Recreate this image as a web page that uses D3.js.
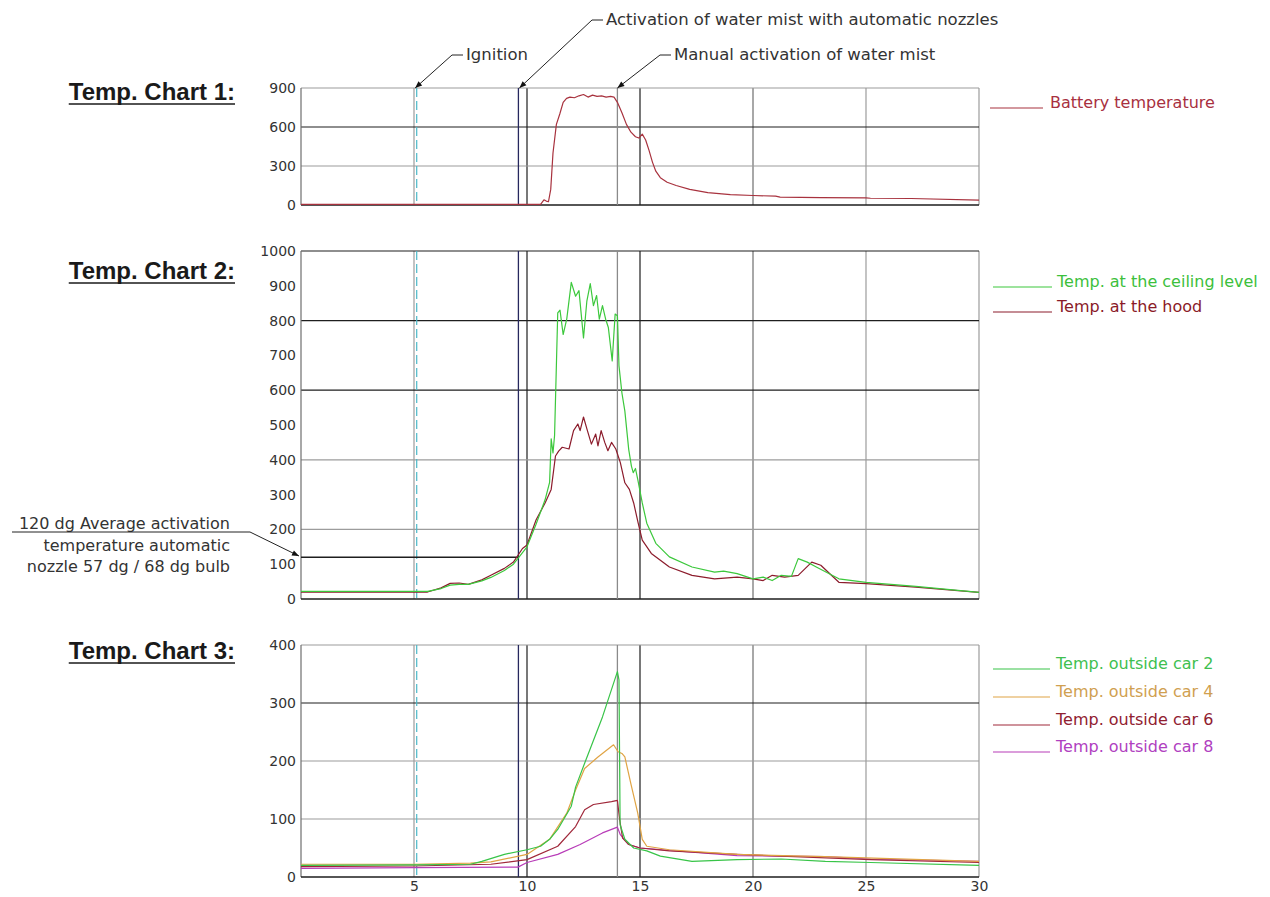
<!DOCTYPE html>
<html><head><meta charset="utf-8">
<script src="https://cdn.jsdelivr.net/npm/d3@7"></script>
<style>
html,body{margin:0;padding:0;background:#fff;}
svg{display:block;}
</style></head>
<body>
<svg id="chart" width="1270" height="897"></svg>
<script>
// ---------------- data ----------------
const xTicks = [5, 10, 15, 20, 25, 30];
const chart1YTicks = [0, 300, 600, 900];
const chart2YTicks = [0, 100, 200, 300, 400, 500, 600, 700, 800, 900, 1000];
const chart3YTicks = [0, 100, 200, 300, 400];

const ignitionTime = 5.12;
const autoActivationTime = 9.62;
const manualActivationTime = 14;
const activationTempLevel = 120;

const battery = [[0,5],[5,5],[10,5],[10.6,5],[10.75,40],[10.85,30],[10.95,25],[11.05,120],[11.15,400],[11.3,620],[11.45,700],[11.6,790],[11.75,820],[11.9,830],[12.1,825],[12.3,840],[12.5,850],[12.7,830],[12.9,845],[13.1,835],[13.3,840],[13.5,830],[13.7,835],[13.85,830],[14.0,790],[14.2,710],[14.4,620],[14.6,560],[14.8,525],[14.95,515],[15.1,545],[15.25,500],[15.4,420],[15.55,330],[15.7,260],[15.9,210],[16.2,175],[16.6,150],[17.2,120],[18,95],[19,80],[20,73],[21,68],[21.2,60],[23,57],[25,55],[25.2,52],[27,50],[30,38]];

const ceiling = [[0,22],[5.6,22],[6.2,30],[6.6,40],[7.0,42],[7.4,42],[8.0,52],[8.4,62],[9.0,82],[9.4,100],[9.62,118],[10,150],[10.4,215],[10.8,285],[11.0,335],[11.07,460],[11.15,420],[11.22,470],[11.36,822],[11.46,830],[11.6,760],[11.76,805],[11.96,910],[12.15,870],[12.3,886],[12.5,750],[12.65,857],[12.8,906],[12.94,843],[13.08,872],[13.2,804],[13.34,843],[13.48,804],[13.6,780],[13.77,684],[13.9,819],[14.0,814],[14.07,670],[14.2,592],[14.33,540],[14.5,430],[14.62,382],[14.7,363],[14.8,375],[14.9,344],[15.1,276],[15.3,218],[15.7,160],[16.3,121],[17.3,92],[18.3,77],[18.7,80],[19.3,73],[20,58],[20.45,63],[20.85,53],[21.25,68],[21.7,65],[22.0,116],[22.4,106],[22.8,92],[23.8,58],[25,48],[27.2,36],[30,19]];

const hood = [[0,20],[5.6,20],[6.2,32],[6.6,45],[7.0,46],[7.4,42],[8.0,55],[8.4,68],[9.0,88],[9.4,106],[9.8,145],[10,155],[10.4,227],[10.8,276],[11.07,315],[11.26,411],[11.4,425],[11.56,436],[11.86,431],[12.06,484],[12.25,503],[12.35,484],[12.5,523],[12.65,489],[12.85,445],[13.04,474],[13.14,440],[13.28,484],[13.44,450],[13.58,426],[13.74,450],[13.93,431],[14.13,392],[14.33,334],[14.53,315],[14.72,276],[14.92,218],[15.1,169],[15.5,131],[16.3,92],[17.3,68],[18.3,58],[19.3,63],[20,58],[20.45,53],[20.85,68],[21.4,63],[22.0,68],[22.6,106],[23,97],[23.8,48],[25,44],[27.2,34],[30,19]];

const car2 = [[0,20],[5,21],[7.5,22],[8.0,27],[9.0,39],[10,47],[10.6,53],[11.0,65],[11.36,82],[11.96,122],[12.15,155],[12.55,196],[13.34,276],[14.0,354],[14.07,340],[14.12,90],[14.33,65],[14.72,50],[15.3,45],[15.9,36],[17.3,27],[19.3,30],[21.25,31],[23.2,27],[25.2,25],[30,20]];
const car4 = [[0,22],[5,22],[7.5,24],[8.4,26],[10,39],[11,65],[11.76,110],[12.15,150],[12.55,187],[13.14,207],[13.83,228],[14.03,216],[14.2,213],[14.33,207],[14.6,160],[14.9,110],[15.1,65],[15.3,53],[16.3,47],[19.3,39],[23.2,35],[30,27]];
const car6 = [[0,18],[5,19],[8.4,22],[10,30],[11.36,53],[12.15,87],[12.55,116],[12.94,125],[13.74,130],[14,132],[14.1,99],[14.23,67],[14.5,56],[15,50],[16.3,45],[19.3,39],[21.25,36],[25.2,30],[30,25]];
const car8 = [[0,15],[5,16],[9.6,17],[10,25],[11.36,39],[12.35,56],[13.34,76],[14,86],[14.13,73],[14.5,56],[15,50],[17.3,43],[19.3,37],[23.2,35],[25.2,31],[30,27]];

const chartTitles = ["Temp. Chart 1:", "Temp. Chart 2:", "Temp. Chart 3:"];
const legend1 = ["Battery temperature"];
const legend2 = ["Temp. at the ceiling level", "Temp. at the hood"];
const legend3 = ["Temp. outside car 2", "Temp. outside car 4", "Temp. outside car 6", "Temp. outside car 8"];
const topNotes = ["Activation of water mist with automatic nozzles", "Ignition", "Manual activation of water mist"];
const leftNote = ["120 dg Average activation", "temperature automatic", "nozzle 57 dg / 68 dg bulb"];

// ---------------- drawing ----------------
const FONT = "'DejaVu Sans', sans-serif";
const svg = d3.select("#chart");
const GRAY = "#9c9c9c", DARK = "#1e1e1e", MID = "#6e6e6e";

const x = d3.scaleLinear().domain([0, 30]).range([301, 979]);

svg.append("defs").append("marker")
  .attr("id","arrow").attr("viewBox","0 0 10 10").attr("refX",10).attr("refY",5)
  .attr("markerWidth",9).attr("markerHeight",7).attr("markerUnits","userSpaceOnUse")
  .attr("orient","auto")
  .append("path").attr("d","M0,1 L10,5 L0,9 Z").attr("fill","#111");

const panels = [
  { title: chartTitles[0], titleY: 100, domain:[0,900], range:[205,88], ticks: chart1YTicks,
    hgrid:[[300,GRAY],[600,DARK],[900,GRAY]],
    series:[{d:battery,c:"#a8323e"}],
    names: legend1, lineCols:["#a8323e"], textCols:["#a83040"],
    legendY:[108], legendX:[990,1043,1050] },
  { title: chartTitles[1], titleY: 279, domain:[0,1000], range:[599,251], ticks: chart2YTicks,
    hgrid:[[200,GRAY],[400,GRAY],[600,DARK],[800,DARK],[1000,DARK]],
    series:[{d:hood,c:"#8c1c2c"},{d:ceiling,c:"#3cc83c"}],
    names: legend2, lineCols:["#3cc83c","#8c1c2c"], textCols:["#3cc03c","#8a1a28"],
    legendY:[287,312], legendX:[993,1052,1057] },
  { title: chartTitles[2], titleY: 659, domain:[0,400], range:[877,645], ticks: chart3YTicks,
    hgrid:[[100,GRAY],[200,GRAY],[300,DARK],[400,GRAY]],
    series:[{d:car8,c:"#b83cb8"},{d:car6,c:"#a0283a"},{d:car4,c:"#e0a444"},{d:car2,c:"#38c448"}],
    names: legend3, lineCols:["#38c448","#e0a444","#a0283a","#b83cb8"], textCols:["#40c050","#d0a050","#902030","#b040c0"],
    legendY:[669,697,725,752], legendX:[993,1050,1056] }
];

panels.forEach((p, pi) => {
  const y = d3.scaleLinear().domain(p.domain).range(p.range);
  const g = svg.append("g");
  const top = p.range[1], bot = p.range[0];

  const vgrid = [[5,GRAY],[10,DARK],[15,DARK],[20,MID],[25,GRAY],[30,GRAY]];
  vgrid.forEach(([v,c]) => g.append("line").attr("x1",x(v)).attr("x2",x(v))
    .attr("y1",top).attr("y2",bot).attr("stroke",c).attr("stroke-width",1.2));
  p.hgrid.forEach(([v,c]) => g.append("line").attr("x1",x(0)).attr("x2",x(30))
    .attr("y1",y(v)).attr("y2",y(v)).attr("stroke",c).attr("stroke-width",1.2));
  g.append("line").attr("x1",x(0)).attr("x2",x(0)).attr("y1",top).attr("y2",bot).attr("stroke",MID).attr("stroke-width",1.2);
  g.append("line").attr("x1",x(0)).attr("x2",x(30)).attr("y1",bot).attr("y2",bot).attr("stroke",DARK).attr("stroke-width",1.4);

  g.append("line").attr("x1",x(autoActivationTime)).attr("x2",x(autoActivationTime))
    .attr("y1",top).attr("y2",bot).attr("stroke","#26285e").attr("stroke-width",1.3);
  g.append("line").attr("x1",x(manualActivationTime)).attr("x2",x(manualActivationTime))
    .attr("y1",top).attr("y2",bot).attr("stroke","#8a8a8a").attr("stroke-width",1.3);
  g.append("line").attr("x1",x(ignitionTime)).attr("x2",x(ignitionTime))
    .attr("y1",top).attr("y2",bot).attr("stroke","#4ab8c8").attr("stroke-width",1.2)
    .attr("stroke-dasharray","9,4");

  if (pi === 1) {
    g.append("line").attr("x1",x(0)).attr("x2",x(autoActivationTime))
      .attr("y1",y(activationTempLevel)).attr("y2",y(activationTempLevel))
      .attr("stroke",DARK).attr("stroke-width",1.4);
  }

  const yAxis = d3.axisLeft(y).tickValues(p.ticks).tickSize(0).tickPadding(5).tickFormat(d3.format("d"));
  const ax = g.append("g").attr("transform",`translate(${x(0)},0)`).call(yAxis);
  ax.select(".domain").remove();
  ax.selectAll("text").style("font-family",FONT).style("font-size","14px").attr("fill","#333");

  if (pi === 2) {
    const xAxis = d3.axisBottom(x).tickValues(xTicks).tickSize(0).tickPadding(4).tickFormat(d3.format("d"));
    const xa = g.append("g").attr("transform",`translate(0,${bot})`).call(xAxis);
    xa.select(".domain").remove();
    xa.selectAll("text").style("font-family",FONT).style("font-size","14px").attr("fill","#333");
  }

  const line = d3.line().x(d => x(d[0])).y(d => y(d[1]));
  p.series.forEach(s => g.append("path").datum(s.d).attr("d",line)
    .attr("fill","none").attr("stroke",s.c).attr("stroke-width",1.2).attr("stroke-linejoin","round"));

  p.names.forEach((n,i) => {
    const ly = p.legendY[i];
    g.append("line").attr("x1",p.legendX[0]).attr("x2",p.legendX[1]).attr("y1",ly).attr("y2",ly)
      .attr("stroke",p.lineCols[i]).attr("stroke-width",1.2);
    g.append("text").attr("x",p.legendX[2]).attr("y",ly)
      .style("font-family",FONT).style("font-size","16px")
      .attr("fill",p.textCols[i]).text(n);
  });

  const t = g.append("text").attr("x",235).attr("y",p.titleY).attr("text-anchor","end")
    .style("font-family","'Liberation Sans', Arial, sans-serif").style("font-weight","bold").style("font-size","24px")
    .attr("fill","#1a1a1a").text(p.title);
  const bb = t.node().getBBox();
  g.append("line").attr("x1",bb.x).attr("x2",bb.x+bb.width).attr("y1",p.titleY+4).attr("y2",p.titleY+4)
    .attr("stroke","#1a1a1a").attr("stroke-width",1.5);
});

function callout(tx, ty, targetX, targetY, label) {
  const dashStart = tx - 14;
  svg.append("line").attr("x1",dashStart).attr("x2",tx-3).attr("y1",ty-5).attr("y2",ty-5)
    .attr("stroke","#222").attr("stroke-width",1);
  svg.append("line").attr("x1",dashStart).attr("y1",ty-5).attr("x2",targetX).attr("y2",targetY)
    .attr("stroke","#222").attr("stroke-width",1).attr("marker-end","url(#arrow)");
  svg.append("text").attr("x",tx).attr("y",ty)
    .style("font-family",FONT).style("font-size","16.5px").attr("fill","#333").text(label);
}
callout(606, 25, x(autoActivationTime)+1, 88, topNotes[0]);
callout(466, 60, x(5.05), 88, topNotes[1]);
callout(674, 60, x(manualActivationTime), 88, topNotes[2]);

const noteY = [529, 551, 572];
leftNote.forEach((s,i) => svg.append("text").attr("x",230).attr("y",noteY[i]).attr("text-anchor","end")
  .style("font-family",FONT).style("font-size","16px").attr("fill","#333").text(s));
svg.append("line").attr("x1",12).attr("x2",250).attr("y1",532).attr("y2",532).attr("stroke","#222").attr("stroke-width",1);
svg.append("line").attr("x1",250).attr("y1",532).attr("x2",299).attr("y2",556)
  .attr("stroke","#222").attr("stroke-width",1).attr("marker-end","url(#arrow)");
</script>
</body></html>
